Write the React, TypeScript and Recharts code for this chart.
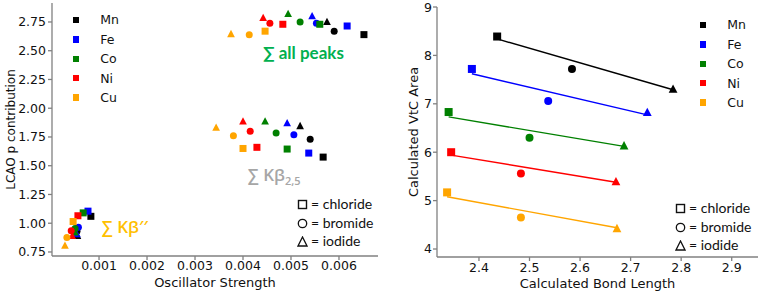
import React from 'react';
import { ScatterChart, Scatter, XAxis, YAxis, Label } from 'recharts';

const METALS = ['Mn', 'Fe', 'Co', 'Ni', 'Cu'];
const HALIDES = ['chloride', 'bromide', 'iodide'];
const COLORS = ['#000000', '#0000ff', '#008000', '#ff0000', '#ffa500'];

// left panel: rows = chloride, bromide, iodide ; columns = Mn, Fe, Co, Ni, Cu
const allPeaksOsc = [
  [0.00652, 0.00617, 0.0056, 0.00483, 0.00446],
  [0.0059, 0.00553, 0.00519, 0.00456, 0.00413],
  [0.00575, 0.00544, 0.00494, 0.00442, 0.00375],
];
const allPeaksP = [
  [2.64, 2.715, 2.73, 2.73, 2.67],
  [2.67, 2.74, 2.75, 2.74, 2.64],
  [2.75, 2.8, 2.82, 2.785, 2.645],
];
const kb25Osc = [
  [0.00567, 0.00537, 0.00492, 0.00429, 0.004],
  [0.0054, 0.00506, 0.00469, 0.00415, 0.0038],
  [0.00519, 0.00492, 0.00446, 0.004, 0.00344],
];
const kb25P = [
  [1.575, 1.61, 1.645, 1.66, 1.65],
  [1.73, 1.77, 1.785, 1.8, 1.76],
  [1.845, 1.87, 1.885, 1.885, 1.83],
];
const kbppOsc = [
  [0.00083, 0.00077, 0.00067, 0.00056, 0.00046],
  [0.00054, 0.00057, 0.0005, 0.00042, 0.00033],
  [0.00055, 0.00054, 0.0005, 0.00044, 0.00029],
];
const kbppP = [
  [1.06, 1.105, 1.09, 1.065, 1.015],
  [0.93, 0.965, 0.955, 0.935, 0.875],
  [0.89, 0.905, 0.92, 0.89, 0.805],
];

// right panel: rows = Mn..Cu ; columns = chloride, bromide, iodide
const bondLength = [
  [2.436, 2.584, 2.784],
  [2.386, 2.537, 2.733],
  [2.34, 2.5, 2.687],
  [2.345, 2.483, 2.671],
  [2.337, 2.483, 2.673],
];
const vtcArea = [
  [8.39, 7.72, 7.3],
  [7.72, 7.06, 6.82],
  [6.83, 6.3, 6.13],
  [6.0, 5.56, 5.39],
  [5.17, 4.65, 4.42],
];
// fitted line end points
const fitBond = [
  [2.436, 2.784],
  [2.386, 2.733],
  [2.34, 2.687],
  [2.345, 2.671],
  [2.337, 2.673],
];
const fitArea = [
  [8.34, 7.29],
  [7.62, 6.77],
  [6.73, 6.12],
  [5.94, 5.38],
  [5.08, 4.44],
];

const oscTicks = [0.001, 0.002, 0.003, 0.004, 0.005, 0.006];
const lcaoTicks = [0.75, 1.0, 1.25, 1.5, 1.75, 2.0, 2.25, 2.5, 2.75];
const bondTicks = [2.4, 2.5, 2.6, 2.7, 2.8, 2.9];
const areaTicks = [4, 5, 6, 7, 8, 9];

const FONT = '"DejaVu Sans", sans-serif';
const NOTE_FONT = 'Lato, "Open Sans", sans-serif';
const AXIS = '#808080';
const tickStyle = { fill: '#111', fontSize: 12.5, fontFamily: FONT };
const titleStyle = { fill: '#111', fontSize: 13, fontFamily: FONT };

const leftSeries = METALS.map((m, mi) => {
  const pts: any[] = [];
  [
    [allPeaksOsc, allPeaksP],
    [kb25Osc, kb25P],
    [kbppOsc, kbppP],
  ].forEach(([xs, ys]) => {
    HALIDES.forEach((h, hi) => pts.push({ x: xs[hi][mi], y: ys[hi][mi], h: hi }));
  });
  return pts;
});

const rightSeries = METALS.map((m, mi) =>
  HALIDES.map((h, hi) => ({ x: bondLength[mi][hi], y: vtcArea[mi][hi], h: hi }))
);
const fitSeries = METALS.map((m, mi) =>
  fitBond[mi].map((x, i) => ({ x, y: fitArea[mi][i] }))
);

// square / circle / triangle marker
const makeMarker = (color: string, s: number) => (props: any) => {
  const { cx, cy, payload } = props;
  if (cx == null || cy == null) return null;
  const k = payload.h;
  if (k === 0) {
    return <rect x={cx - s / 2} y={cy - s / 2} width={s} height={s} fill={color} />;
  }
  if (k === 1) {
    return <circle cx={cx} cy={cy} r={s / 2} fill={color} />;
  }
  const t = s * 1.1;
  return (
    <polygon
      points={`${cx},${cy - t * 0.55} ${cx - t / 2},${cy + t * 0.4} ${cx + t / 2},${cy + t * 0.4}`}
      fill={color}
    />
  );
};

const noShape = () => null;

const MetalLegend = ({ left, top }: { left: number; top: number }) => (
  <div style={{ position: 'absolute', left, top, fontFamily: FONT, fontSize: 12.5, color: '#111' }}>
    {METALS.map((m, i) => (
      <div key={m} style={{ display: 'flex', alignItems: 'center', height: 19.4 }}>
        <span style={{ display: 'inline-block', width: 6.5, height: 6.5, background: COLORS[i] }} />
        <span style={{ marginLeft: 21 }}>{m}</span>
      </div>
    ))}
  </div>
);

// outline symbols for the halide key
const KeyIcon = ({ kind }: { kind: number }) => (
  <svg width={11} height={11} style={{ marginRight: 3, verticalAlign: '-1px' }}>
    {kind === 0 && <rect x={1.5} y={1.5} width={8} height={8} fill="none" stroke="#111" strokeWidth={1.4} />}
    {kind === 1 && <circle cx={5.5} cy={5.5} r={4.2} fill="none" stroke="#111" strokeWidth={1.3} />}
    {kind === 2 && <polygon points="5.5,1 1,10 10,10" fill="none" stroke="#111" strokeWidth={1.3} />}
  </svg>
);

const ShapeKey = ({ left, top }: { left: number; top: number }) => (
  <div style={{ position: 'absolute', left, top, fontFamily: NOTE_FONT, fontSize: 14, color: '#111', lineHeight: '18.5px', whiteSpace: 'nowrap' }}>
    {HALIDES.map((h, i) => (
      <div key={h}>
        <KeyIcon kind={i} />= {h}
      </div>
    ))}
  </div>
);

const frameAxes = (
  <>
    <XAxis xAxisId="top" orientation="top" type="number" domain={[0, 1]} height={0} tick={false} tickLine={false} stroke={AXIS} strokeWidth={1.3} />
    <YAxis yAxisId="right" orientation="right" type="number" domain={[0, 1]} width={0} tick={false} tickLine={false} stroke={AXIS} strokeWidth={1.3} />
  </>
);

export default function App() {
  return (
    <div style={{ position: 'absolute', left: 0, top: 0, width: 760, height: 293, background: '#fff', fontFamily: FONT }}>
      <div style={{ position: 'absolute', left: 0, top: 0 }}>
        <ScatterChart width={380} height={293} margin={{ top: 3, right: 2, bottom: 0, left: 0 }}>
          <XAxis
            type="number"
            dataKey="x"
            domain={[0.00002, 0.006813]}
            ticks={oscTicks}
            tickFormatter={(v: number) => v.toFixed(3)}
            allowDataOverflow
            height={37}
            tickSize={4}
            tickMargin={1}
            stroke={AXIS}
            strokeWidth={1.3}
            tick={tickStyle}
          >
            <Label value="Oscillator Strength" position="insideBottom" offset={6.5} style={titleStyle} />
          </XAxis>
          <YAxis
            type="number"
            dataKey="y"
            domain={[0.715, 2.915]}
            ticks={lcaoTicks}
            tickFormatter={(v: number) => v.toFixed(2)}
            allowDataOverflow
            width={52}
            tickSize={4}
            tickMargin={2}
            stroke={AXIS}
            strokeWidth={1.3}
            tick={tickStyle}
          >
            <Label value="LCAO p contribution" angle={-90} position="insideLeft" offset={11} style={{ ...titleStyle, fontSize: 12, textAnchor: 'middle' }} />
          </YAxis>
          {frameAxes}
          {leftSeries.map((pts, mi) => (
            <Scatter key={METALS[mi]} name={METALS[mi]} data={pts} shape={makeMarker(COLORS[mi], 7)} isAnimationActive={false} />
          ))}
        </ScatterChart>
      </div>

      <div style={{ position: 'absolute', left: 380, top: 0 }}>
        <ScatterChart width={380} height={293} margin={{ top: 7, right: 2, bottom: 0, left: 0 }}>
          <XAxis
            type="number"
            dataKey="x"
            domain={[2.317, 2.952]}
            ticks={bondTicks}
            tickFormatter={(v: number) => v.toFixed(1)}
            allowDataOverflow
            height={36}
            tickSize={4}
            tickMargin={2}
            stroke={AXIS}
            strokeWidth={1.3}
            tick={tickStyle}
          >
            <Label value="Calculated Bond Length" position="insideBottom" offset={5.5} style={titleStyle} />
          </XAxis>
          <YAxis
            type="number"
            dataKey="y"
            domain={[3.835, 9]}
            ticks={areaTicks}
            allowDataOverflow
            width={57}
            tickSize={4}
            tickMargin={1}
            stroke={AXIS}
            strokeWidth={1.3}
            tick={tickStyle}
          >
            <Label value="Calculated VtC Area" angle={-90} position="insideLeft" offset={33} style={{ ...titleStyle, textAnchor: 'middle' }} />
          </YAxis>
          {frameAxes}
          {fitSeries.map((pts, mi) => (
            <Scatter
              key={'fit' + mi}
              data={pts}
              line={{ stroke: COLORS[mi], strokeWidth: 1.4 }}
              shape={noShape}
              legendType="none"
              isAnimationActive={false}
            />
          ))}
          {rightSeries.map((pts, mi) => (
            <Scatter key={METALS[mi]} name={METALS[mi]} data={pts} shape={makeMarker(COLORS[mi], 8)} isAnimationActive={false} />
          ))}
        </ScatterChart>
      </div>

      <MetalLegend left={72.7} top={10.3} />
      <MetalLegend left={699.7} top={15.3} />
      <ShapeKey left={297} top={195} />
      <ShapeKey left={675} top={199} />

      <div style={{ position: 'absolute', left: 263, top: 44, fontFamily: NOTE_FONT, fontWeight: 700, fontSize: 17, lineHeight: '18px', color: '#00b050', whiteSpace: 'nowrap' }}>
        ∑ all peaks
      </div>
      <div style={{ position: 'absolute', left: 248, top: 165, fontFamily: '"Open Sans", sans-serif', fontWeight: 600, fontSize: 17, lineHeight: '20px', color: '#a6a6a6', whiteSpace: 'nowrap' }}>
        ∑ Kβ<sub style={{ fontSize: 11, verticalAlign: '-4px' }}>2,5</sub>
      </div>
      <div style={{ position: 'absolute', left: 102, top: 217, fontFamily: '"Open Sans", sans-serif', fontWeight: 600, fontSize: 17, lineHeight: '20px', color: '#ffc000', whiteSpace: 'nowrap' }}>
        ∑ Kβ′′
      </div>
    </div>
  );
}
